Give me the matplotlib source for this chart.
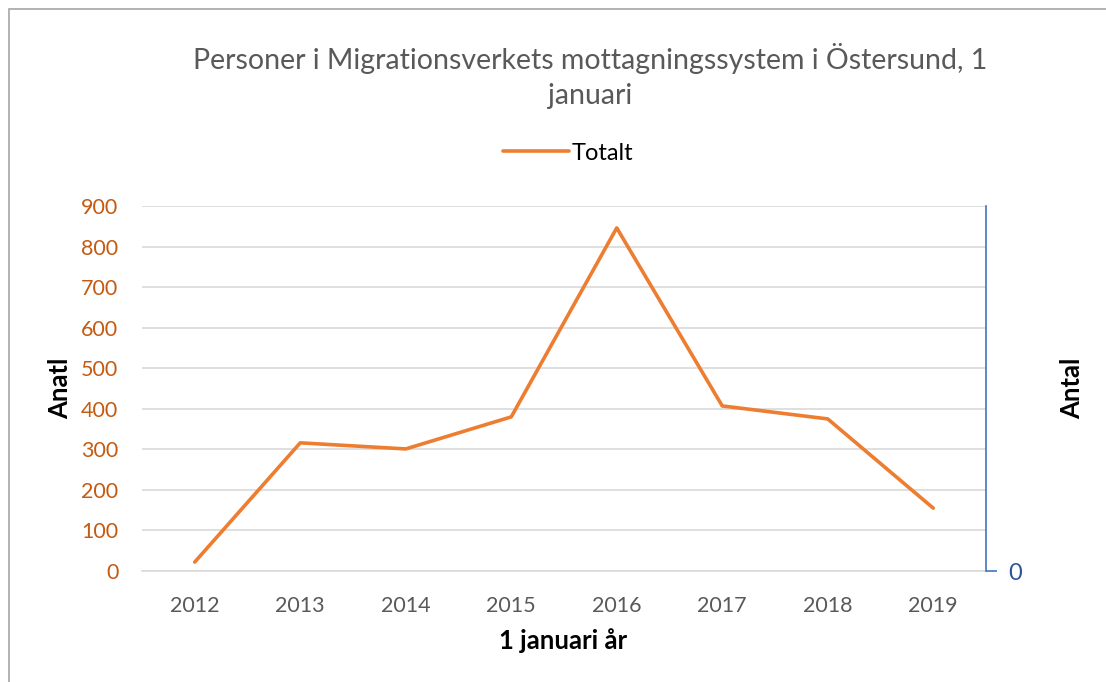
import matplotlib.pyplot as plt
from matplotlib.patches import Rectangle

years = ["2012", "2013", "2014", "2015", "2016", "2017", "2018", "2019"]
totalt = [22, 316, 301, 380, 846, 407, 375, 155]
y_ticks = [0, 100, 200, 300, 400, 500, 600, 700, 800, 900]

plt.rcParams['font.family'] = ['Lato', 'DejaVu Sans']

W, H = 1106, 682
fig = plt.figure(figsize=(W / 100, H / 100), dpi=100)
ax = fig.add_axes([142 / W, 1 - 571 / H, (986 - 142) / W, (571 - 206) / H])

# chart frame (clipped on right/bottom like the screenshot)
fig.patches.append(Rectangle((9 / W, -0.1), 1.2, 1 - 9 / H + 0.1, transform=fig.transFigure,
                             fill=False, edgecolor="#A6A6A6", linewidth=1.2))

x = list(range(len(years)))
ax.plot(x, totalt, color="#ED7D31", linewidth=2.6, solid_capstyle="round", label="Totalt", zorder=3)

ax.set_xlim(-0.5, len(years) - 0.5)
ax.set_ylim(0, 900)
ax.set_yticks(y_ticks)
ax.set_yticklabels([str(v) for v in y_ticks])
ax.set_xticks(x)
ax.set_xticklabels(years)
ax.grid(axis="y", color="#D9D9D9", linewidth=1.2)
ax.set_axisbelow(True)
for s in ["top", "right", "left"]:
    ax.spines[s].set_visible(False)
ax.spines["bottom"].set_color("#D9D9D9")
ax.spines["bottom"].set_linewidth(1.2)
ax.tick_params(axis="y", length=0, labelsize=15.5, labelcolor="#C55A11", pad=17)
ax.tick_params(axis="x", length=0, labelsize=15.5, labelcolor="#595959", pad=18)

fig.text(60 / W, 1 - 388 / H, "Anatl", rotation=90, ha="center", va="center",
         fontsize=18.5, fontweight="bold")
fig.text(1072 / W, 1 - 388 / H, "Antal", rotation=90, ha="center", va="center",
         fontsize=18.5, fontweight="bold")
fig.text(563 / W, 1 - 641 / H, "1 januari år", ha="center", va="center",
         fontsize=18.5, fontweight="bold")

ax2 = ax.twinx()
ax2.set_ylim(0, 900)
ax2.set_yticks([0])
ax2.set_yticklabels(["0"])
for s in ["top", "left", "bottom"]:
    ax2.spines[s].set_visible(False)
ax2.spines["right"].set_color("#4472C4")
ax2.spines["right"].set_linewidth(1.2)
ax2.tick_params(axis="y", length=8, width=1.2, color="#4472C4", labelsize=17,
                labelcolor="#2F5597", pad=8)

fig.text(590 / W, 1 - 58 / H, "Personer i Migrationsverkets mottagningssystem i Östersund, 1",
         ha="center", va="center", fontsize=20.5, color="#595959")
fig.text(590 / W, 1 - 96 / H, "januari", ha="center", va="center", fontsize=20.5, color="#595959")

ax.legend(loc="center", bbox_to_anchor=(568 / W, 1 - 153 / H), bbox_transform=fig.transFigure,
          frameon=False, fontsize=17, handlelength=2.8, handletextpad=0.1)

fig.savefig("out.png", dpi=100)
